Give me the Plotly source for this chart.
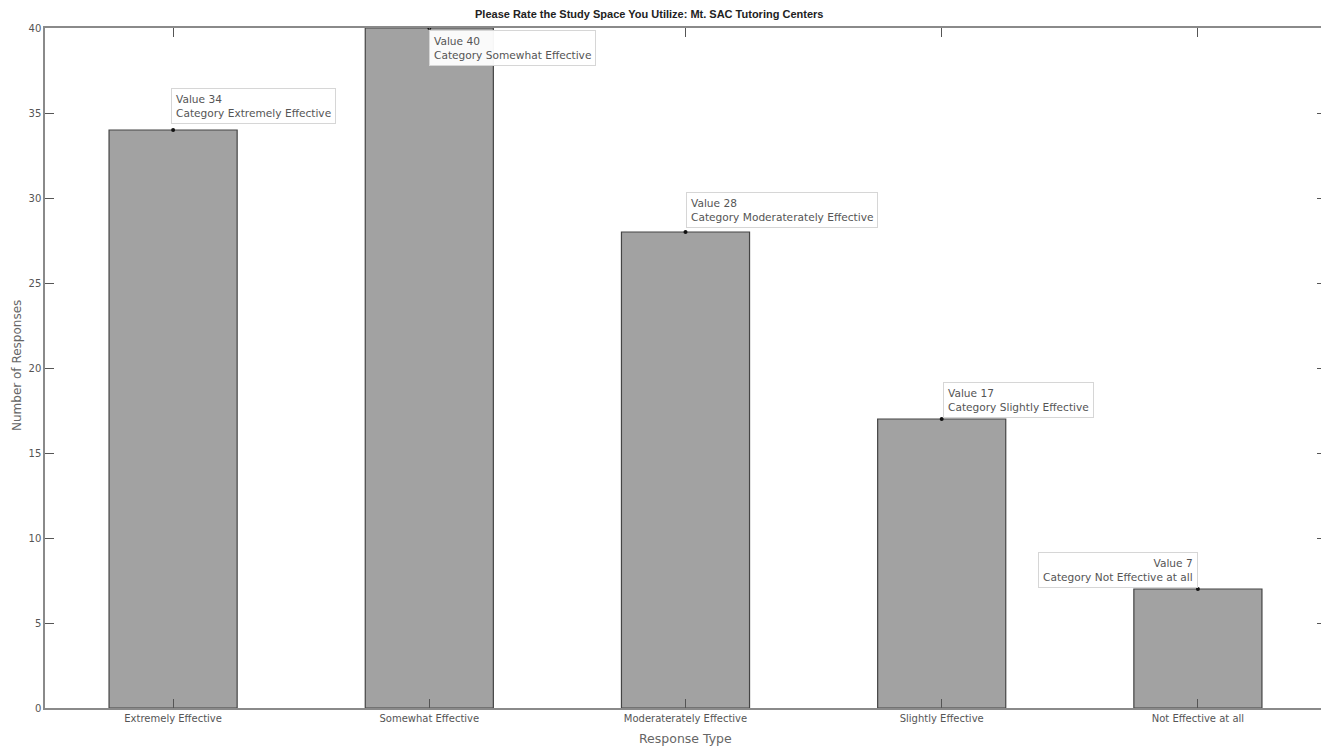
import plotly.graph_objects as go

categories = ["Extremely Effective", "Somewhat Effective", "Moderaterately Effective",
              "Slightly Effective", "Not Effective at all"]
tip_names = ["Extremely Effective", "Somewhat Effective", "Moderaterately Effective",
             "Slightly Effective", "Not Effective at all"]
values = [34, 40, 28, 17, 7]
y_ticks = [0, 5, 10, 15, 20, 25, 30, 35, 40]

title_text = "Please Rate the Study Space You Utilize: Mt. SAC Tutoring Centers"
x_title = "Response Type"
y_title = "Number of Responses"

FONT = "DejaVu Sans, Liberation Sans, sans-serif"
TFONT = "Liberation Sans, Arial, sans-serif"
xs = list(range(len(categories)))

fig = go.Figure()
fig.add_trace(go.Bar(
    x=xs, y=values, width=0.5,
    marker=dict(color="#a2a2a2", line=dict(color="#444444", width=1.2)),
    showlegend=False, hoverinfo="skip",
))
fig.add_trace(go.Scatter(
    x=xs, y=values, mode="markers",
    marker=dict(color="#111111", size=4),
    showlegend=False, hoverinfo="skip", cliponaxis=False,
))

# data tip placement: (xanchor, yanchor, xshift, yshift, align)
placements = [
    ("left", "bottom", -2, 6, "left"),
    ("left", "top", 0, -2, "left"),
    ("left", "bottom", 0, 4, "left"),
    ("left", "bottom", 1, 1, "left"),
    ("right", "bottom", 0, 1, "right"),
]
for i, (xa, ya, dx, dy, al) in enumerate(placements):
    fig.add_annotation(
        x=xs[i], y=values[i], xref="x", yref="y",
        text=f"Value {values[i]}<br>Category {tip_names[i]}",
        showarrow=False, xanchor=xa, yanchor=ya, xshift=dx, yshift=dy,
        align=al, font=dict(family=FONT, size=10.6, color="#555555"),
        bgcolor="rgba(255,255,255,0.95)", bordercolor="#d6d6d6", borderwidth=1,
        borderpad=4,
    )

# plot area in page pixels: x 45..1326, y 28..708 (page body has 8px offset)
fig.add_annotation(
    x=(649 - 45) / 1281, y=(708 - 14) / 680, xref="paper", yref="paper",
    text=f"<b>{title_text}</b>", showarrow=False,
    font=dict(family=TFONT, size=11, color="#222222"),
    xanchor="center", yanchor="middle",
)
fig.add_annotation(
    x=0.5, y=(708 - 738) / 680, xref="paper", yref="paper",
    text=x_title, showarrow=False,
    font=dict(family=FONT, size=12.5, color="#666666"),
    xanchor="center", yanchor="middle",
)
fig.add_annotation(
    x=(17 - 45) / 1281, y=(708 - 366) / 680, xref="paper", yref="paper",
    text=y_title, showarrow=False, textangle=-90,
    font=dict(family=FONT, size=12, color="#666666"),
    xanchor="center", yanchor="middle",
)

fig.update_layout(
    width=1321, height=739,
    margin=dict(l=37, r=3, t=20, b=39),
    paper_bgcolor="white", plot_bgcolor="white",
    font=dict(family=FONT, color="#555555", size=10),
    xaxis=dict(
        range=[-0.5, len(categories) - 0.5],
        tickmode="array", tickvals=xs, ticktext=categories,
        ticks="inside", ticklen=9, tickcolor="#555555",
        showline=True, linecolor="#8a8a8a", linewidth=1.5, mirror="allticks",
        showgrid=False, zeroline=False, automargin=False,
        tickfont=dict(family=FONT, size=10, color="#555555"),
    ),
    yaxis=dict(
        range=[0, 40], tickmode="array", tickvals=y_ticks,
        ticks="inside", ticklen=9, tickcolor="#555555",
        showline=True, linecolor="#8a8a8a", linewidth=1.5, mirror="allticks",
        showgrid=False, zeroline=False, automargin=False,
        tickfont=dict(family=FONT, size=10, color="#555555"),
    ),
)

fig.write_html("out.html")
